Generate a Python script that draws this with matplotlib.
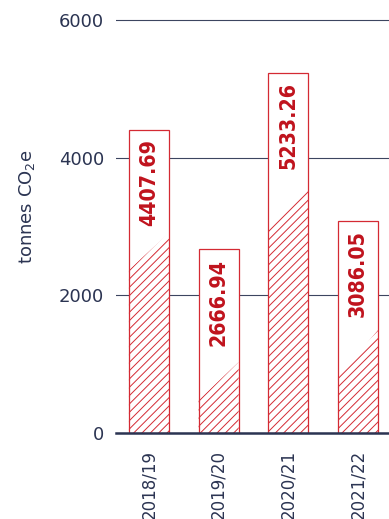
import matplotlib
matplotlib.use("Agg")
import matplotlib.pyplot as plt
from matplotlib import font_manager

# data
years = ["2018/19", "2019/20", "2020/21", "2021/22"]
totals = [4407.69, 2666.94, 5233.26, 3086.05]
# hatched part: height at left and right edge of each bar
hatch_left = [2370, 480, 2980, 815]
hatch_right = [2905, 1030, 3560, 1495]

RED = "#d42a33"
DARK_RED = "#c0131d"
NAVY = "#2b3452"

plt.rcParams["hatch.linewidth"] = 0.7

# look for a narrow bold face for the value labels
label_font = font_manager.FontProperties(family="DejaVu Sans", weight="bold")
for f in font_manager.fontManager.ttflist:
    narrow = any(k in f.fname.lower() for k in ("condensed", "narrow"))
    if narrow and "bold" in f.fname.lower() and "oblique" not in f.fname.lower() \
            and "italic" not in f.fname.lower():
        label_font = font_manager.FontProperties(fname=f.fname)
        break

fig = plt.figure(figsize=(3.89, 5.19), dpi=100)
ax = fig.add_axes([0.2982, 0.1657, 0.7018, 0.8024])

width = 0.575
x = list(range(len(years)))

ax.bar(x, totals, width=width, color="white", edgecolor=RED, linewidth=0.9, zorder=3)

labels = []
for i in x:
    x0, x1 = i - width / 2, i + width / 2
    ax.fill([x0, x1, x1, x0], [0, 0, hatch_right[i], hatch_left[i]],
            facecolor="none", edgecolor=RED, hatch="////", linewidth=0, zorder=4)
    t = ax.annotate(f"{totals[i]:.2f}", xy=(i, totals[i]), xytext=(0, -7),
                    textcoords="offset points", rotation=90, ha="center", va="top",
                    fontproperties=label_font, fontsize=20, color=DARK_RED, zorder=5)
    labels.append(t)

ax.set_xlim(-0.473, 3.445)
ax.set_ylim(0, 6050)
ax.set_yticks([0, 2000, 4000, 6000])
ax.set_xticks(x)
ax.set_xticklabels(years, rotation=90, va="top")

ax.yaxis.grid(True, color="#3c4560", linewidth=0.8)
ax.set_axisbelow(True)
ax.axhline(0, color=NAVY, linewidth=1.8, zorder=6, clip_on=False)

for s in ax.spines.values():
    s.set_visible(False)

ax.tick_params(axis="y", length=0, pad=8.5, labelsize=13, labelcolor=NAVY)
ax.tick_params(axis="x", length=0, pad=12, labelsize=12, labelcolor=NAVY)

ax.set_ylabel("tonnes CO$_2$e", fontsize=13, color=NAVY)
ax.yaxis.set_label_coords(-0.289, 0.544)

# fit label size so the text runs about 87 px along the bar
fig.canvas.draw()
r = fig.canvas.get_renderer()
h = labels[2].get_window_extent(r).height
for t in labels:
    t.set_fontsize(20 * 87 / h)

fig.savefig("out.png", dpi=100)
